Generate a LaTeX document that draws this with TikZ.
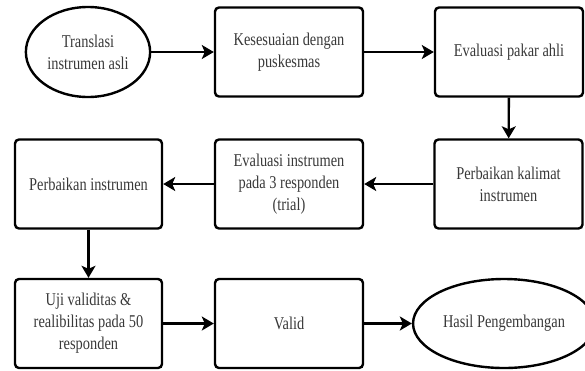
\documentclass[tikz,border=0pt]{standalone}
\usepackage{fontspec}
\setmainfont[FakeStretch=0.8]{Liberation Serif}
\usetikzlibrary{arrows.meta,shapes.geometric}
\begin{document}
\begin{tikzpicture}[x=1pt,y=-1pt,
  box/.style={draw,line width=2.4pt,rounded corners=4pt,minimum width=148pt,
    minimum height=89pt,align=center,font=\fontsize{18}{22}\selectfont,text=black!78},
  term/.style={box,ellipse,rounded corners=0pt},
  flow/.style={-{Stealth[length=12pt,width=14pt,inset=3pt]},line width=2.4pt}
  ]
  \useasboundingbox (0,0) rectangle (585,370);
  \node[term,minimum width=119pt,minimum height=90pt] (trans) at (88,52) {Translasi\\instrumen asli};
  \node[box] (sesuai) at (289,52) {Kesesuaian dengan\\puskesmas};
  \node[box] (pakar) at (509,52) {Evaluasi pakar ahli};
  \node[box] (kalimat) at (508.5,184) {Perbaikan kalimat\\instrumen};
  \node[box] (evalins) at (289,184) {Evaluasi instrumen\\pada 3 responden\\(trial)};
  \node[box,minimum width=147pt] (perbaik) at (88.5,184) {Perbaikan instrumen};
  \node[box,minimum width=147pt] (uji) at (88.5,323.5) {Uji validitas \&\\realibilitas pada 50\\responden};
  \node[box] (valid) at (289,323.5) {Valid};
  \node[term,minimum width=158pt,minimum height=89pt] (hasil) at (504,323.5) {Hasil Pengembangan};

  \draw[flow] (trans) -- (sesuai);
  \draw[flow] (sesuai) -- (pakar);
  \draw[flow] (pakar) -- (kalimat);
  \draw[flow] (kalimat) -- (evalins);
  \draw[flow] (evalins) -- (perbaik);
  \draw[flow] (perbaik) -- (uji);
  \draw[flow] (uji) -- (valid);
  \draw[flow] (valid) -- (hasil);
\end{tikzpicture}
\end{document}
